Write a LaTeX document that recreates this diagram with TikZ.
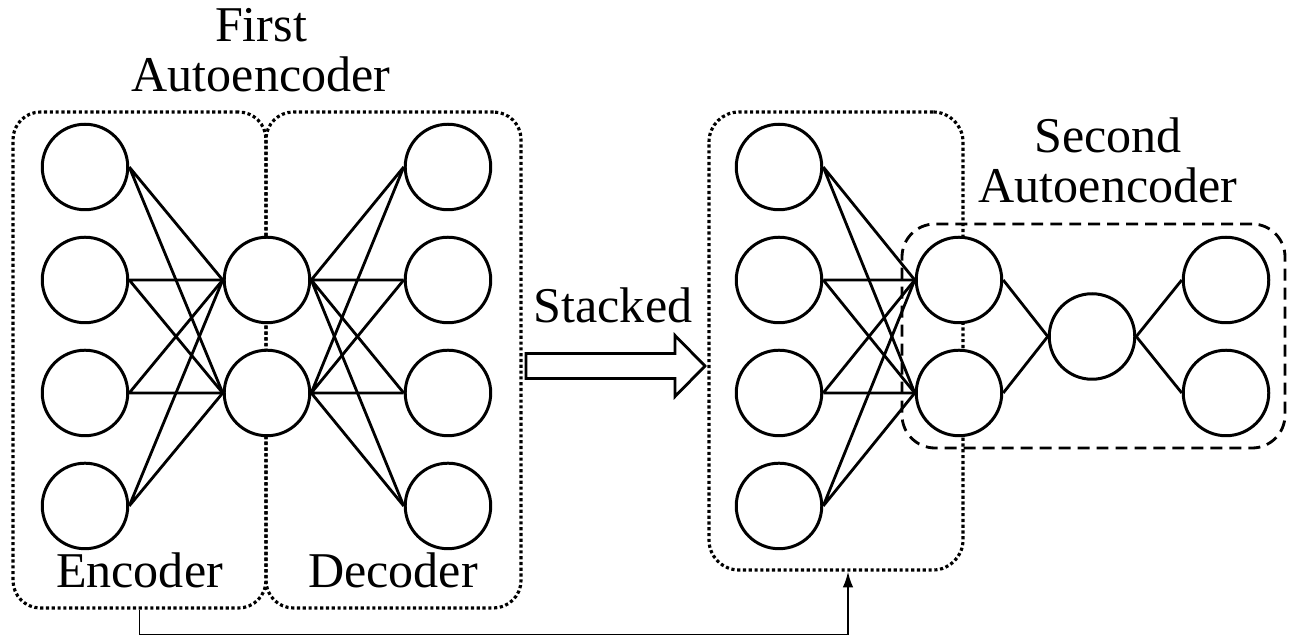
\documentclass[tikz,border=0pt]{standalone}
\usepackage{fontspec}
\setmainfont{Liberation Serif}
\usetikzlibrary{arrows.meta, positioning}
\tikzset{
    >={Latex[length=9pt,width=6pt]},
    % Units and groups
    neuron/.style={circle, draw, line width=1.7pt, fill=white, inner sep=0pt, minimum size=1.71cm},
    block/.style={rectangle, draw, line width=1.8pt, dash pattern=on 1.8pt off 1.5pt, rounded corners=0.55cm, inner sep=0pt},
    subnet/.style={rectangle, draw, line width=1.6pt, dash pattern=on 6.8pt off 4pt, rounded corners=0.66cm, inner sep=0pt},
    % Links & Labels
    link/.style={line width=1.6pt},
    feed/.style={->, line width=1.1pt},
    lbl/.style={font=\fontsize{28.5}{28}\selectfont, inner sep=0pt, align=center}
}

\begin{document}
\begin{tikzpicture}[node distance=0.49cm and 1.86cm]
\useasboundingbox (0,0) rectangle (25.84,12.76);

% dotted groups first, so the units sit on top
\node[block, minimum width=5.06cm, minimum height=9.92cm] (enc) at (2.79,5.56) {};
\node[block, minimum width=5.10cm, minimum height=9.92cm] (dec) at (7.87,5.56) {};
\node[block, rounded corners=0.6cm, minimum width=5.08cm, minimum height=9.16cm] (stack) at (16.72,5.94) {};
\node[subnet, minimum width=7.66cm, minimum height=4.48cm] (second) at (21.87,6.04) {};

% first autoencoder
\node[neuron] (e1) at (1.70,9.42) {};
\node[neuron, below=of e1] (e2) {};
\node[neuron, below=of e2] (e3) {};
\node[neuron, below=of e3] (e4) {};
\node[neuron, right=1.87cm of e2] (h1) {};
\node[neuron, below=of h1] (h2) {};
\node[neuron, right=1.85cm of h1] (d2) {};
\node[neuron, above=of d2] (d1) {};
\node[neuron, below=of d2] (d3) {};
\node[neuron, below=of d3] (d4) {};

% stacked network
\node[neuron] (b1) at (15.58,9.42) {};
\node[neuron, below=of b1] (b2) {};
\node[neuron, below=of b2] (b3) {};
\node[neuron, below=of b3] (b4) {};
\node[neuron, right=1.83cm of b2] (s1) {};
\node[neuron, below=of s1] (s2) {};
\node[neuron] (m) at (21.84,6.03) {};
\node[neuron] (o1) at (24.52,7.16) {};
\node[neuron, below=of o1] (o2) {};

\draw[link] (e1.east) -- (h1.west) (e1.east) -- (h2.west);
\draw[link] (e2.east) -- (h1.west) (e2.east) -- (h2.west);
\draw[link] (e3.east) -- (h1.west) (e3.east) -- (h2.west);
\draw[link] (e4.east) -- (h1.west) (e4.east) -- (h2.west);
\draw[link] (h1.east) -- (d1.west) (h1.east) -- (d2.west) (h1.east) -- (d3.west) (h1.east) -- (d4.west);
\draw[link] (h2.east) -- (d1.west) (h2.east) -- (d2.west) (h2.east) -- (d3.west) (h2.east) -- (d4.west);

\draw[link] (b1.east) -- (s1.west) (b1.east) -- (s2.west);
\draw[link] (b2.east) -- (s1.west) (b2.east) -- (s2.west);
\draw[link] (b3.east) -- (s1.west) (b3.east) -- (s2.west);
\draw[link] (b4.east) -- (s1.west) (b4.east) -- (s2.west);
\draw[link] (s1.east) -- (m.west) (s2.east) -- (m.west);
\draw[link] (m.east) -- (o1.west) (m.east) -- (o2.west);

% labels
\node[lbl, anchor=south] (title1) at (5.22,10.92) {First\\Autoencoder};
\node[lbl, anchor=south] (title2) at (22.16,8.70) {Second\\Autoencoder};
\node[lbl, anchor=base] (enclbl) at (2.79,1.00) {Encoder};
\node[lbl, anchor=base] (declbl) at (7.86,1.00) {Decoder};
\node[lbl, anchor=base] (stklbl) at (12.26,6.30) {Stacked};

% hollow arrow
\coordinate (stk) at (10.52,5.44);
\draw[line width=1.6pt] ([yshift=0.25cm]stk) -- ++(2.98,0) -- ++(0,0.36) -- ++(0.6,-0.61)
    -- ++(-0.6,-0.61) -- ++(0,0.36) -- ++(-2.98,0) -- cycle;

% encoder weights passed on
\coordinate (fb) at (16.96,0.07);
\draw[feed] (enc.south) |- (fb) -- (fb |- stack.south);

\end{tikzpicture}
\end{document}
